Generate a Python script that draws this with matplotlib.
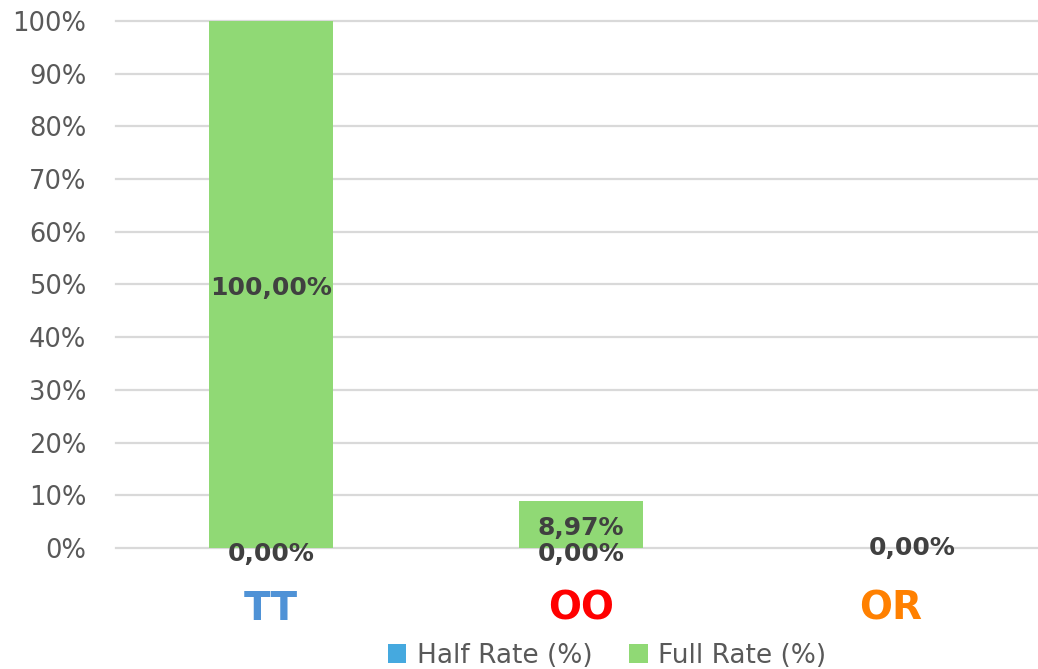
import numpy as np
import matplotlib.pyplot as plt
import matplotlib.ticker as ticker

categories = ['TT', 'OO', 'OR']
cat_colors = ['#4F92D6', '#FF0000', '#FF8000']
half_rate = [0.0, 0.0, 0.0]
full_rate = [100.0, 8.97, 0.0]

plt.rcParams['font.family'] = 'DejaVu Sans'

fig = plt.figure(figsize=(10.38, 6.69), dpi=100)
ax = fig.add_axes([0.1118, 0.1809, 0.896, 0.7877])

x = np.arange(len(categories))
w = 0.4
ax.bar(x, half_rate, w, color='#45A9DF', label='Half Rate (%)', zorder=2)
ax.bar(x, full_rate, w, bottom=half_rate, color='#90D975', label='Full Rate (%)', zorder=2)

ax.set_xlim(-0.5, 2.5)
ax.set_ylim(0, 100)
ax.yaxis.set_major_locator(ticker.MultipleLocator(10))
ax.yaxis.set_major_formatter(ticker.FuncFormatter(lambda v, p: '{:.0f}%'.format(v)))
ax.grid(axis='y', color='#D9D9D9', linewidth=1.6, zorder=0)
ax.set_axisbelow(True)
for gl in ax.get_ygridlines():
    gl.set_clip_on(False)
for s in ax.spines.values():
    s.set_visible(False)
ax.tick_params(axis='y', length=0, labelsize=18.5, labelcolor='#595959', pad=21.5)
ax.tick_params(axis='x', length=0, pad=30)
ax.set_xticks(x)
ax.set_xticklabels(categories, fontsize=28, fontweight='bold')
for lbl, c in zip(ax.get_xticklabels(), cat_colors):
    lbl.set_color(c)

def fmt(v):
    return '{:.2f}%'.format(v).replace('.', ',')

# full rate labels in the middle of the bars
for i in range(len(categories)):
    if full_rate[i] > 0:
        ax.annotate(fmt(full_rate[i]), (x[i], half_rate[i] + full_rate[i] / 2),
                    xytext=(0, -4), textcoords='offset pixels', ha='center', va='center',
                    fontsize=18, fontweight='bold', color='#404040', zorder=3)

# half rate labels at the base
for i in range(len(categories)):
    if full_rate[i] > 0:
        off = (0, -6)
    else:
        off = (21, 0)
    ax.annotate(fmt(half_rate[i]), (x[i], 0), xytext=off, textcoords='offset pixels',
                ha='center', va='center', fontsize=18, fontweight='bold',
                color='#404040', zorder=3, annotation_clip=False)

fig.legend(loc='center', bbox_to_anchor=(0.585, 0.02), ncol=2, frameon=False,
           fontsize=19, labelcolor='#595959', handlelength=0.7, handleheight=0.7,
           handletextpad=0.4, columnspacing=1.4, borderaxespad=0)

fig.savefig('out.png', dpi=100)
